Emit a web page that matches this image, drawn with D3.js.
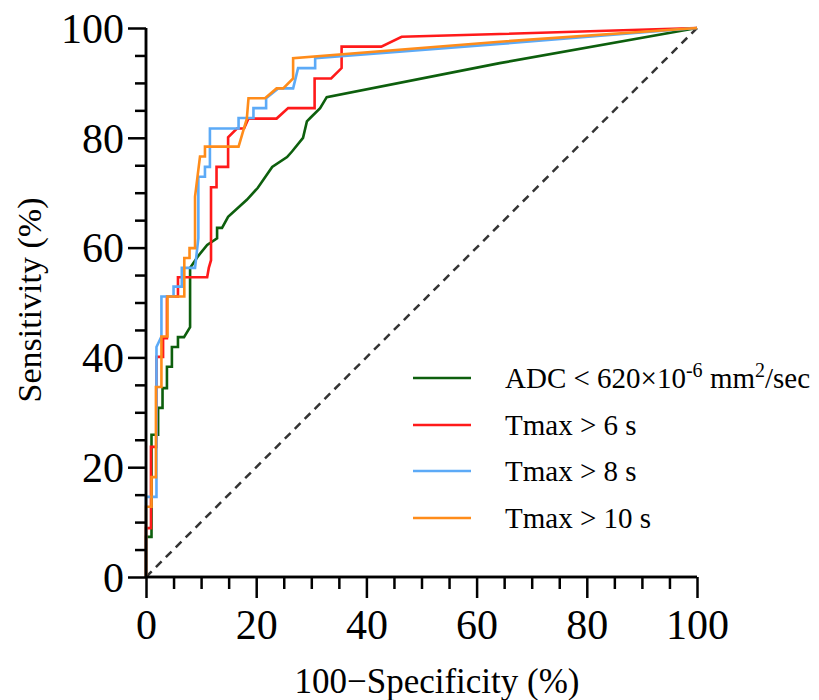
<!DOCTYPE html>
<html>
<head>
<meta charset="utf-8">
<script src="https://d3js.org/d3.v7.min.js"></script>
<style>
	body { margin: 0; background: #fff; }
	svg text { font-family: "Liberation Serif", "Times New Roman", serif; fill: #000; }
</style>
</head>
<body>
<div id="chart"></div>
<script>
// ROC curve points: [100-specificity, sensitivity]
var adc = [[0,0],[0,7.3],[1,7.3],[1,25.9],[2.2,25.9],[2.2,30.8],[3,30.8],[3,34.4],[3.8,34.4],[3.8,38.3],
	[4.7,38.3],[4.7,41.9],[5.8,41.9],[5.8,43.7],[6.9,43.7],[8,45.5],[8,56.3],[9.5,58.5],[11.1,60.5],
	[12.9,61.7],[12.9,63.6],[13.8,63.6],[14.9,65.6],[18.3,68.7],[20.3,70.9],[22.9,74.7],[25.6,76.5],
	[26.5,77.5],[28.5,80],[29.2,83],[29.8,83.6],[31.6,85.4],[32.8,87.4],[64.2,93.6],[100,100]];
var tmax6 = [[0,0],[0,8.9],[0.9,8.9],[0.9,23.7],[1.9,23.7],[1.9,40.1],[3.1,40.1],[3.1,43.5],[3.8,43.5],
	[3.8,51.1],[5.8,51.1],[5.8,54.6],[11.1,54.6],[11.4,56.3],[11.8,57.7],[11.8,71],[12.8,71],[12.8,74.7],
	[14.9,74.7],[14.9,80.1],[16.5,81.7],[17.8,81.7],[18.6,83.5],[23.7,83.5],[25.8,85.4],[30.6,85.4],
	[30.6,90.8],[33.6,90.8],[35.5,92.7],[35.5,96.6],[42.7,96.6],[46.4,98.4],[64.2,98.9],[100,100]];
var tmax8 = [[0,0],[0,14.6],[1.9,14.6],[1.9,41.9],[2.8,43.8],[2.8,51.1],[5,51.1],[5,52.9],[6.5,52.9],
	[6.5,56.3],[8.9,56.3],[9.5,61.7],[9.5,72.9],[10.7,72.9],[10.7,74.7],[11.6,74.7],[11.6,81.7],
	[16.8,81.7],[16.8,83.6],[19.5,83.6],[19.5,85.4],[21.8,85.4],[21.8,87.2],[24,89],[26.7,89],
	[27.6,92.7],[30.7,92.7],[30.7,94.5],[64.2,97.1],[100,100]];
var tmax10 = [[0,0],[0,12.8],[1,12.8],[1,18.2],[1.8,18.2],[1.8,34.6],[2.8,34.6],[2.8,43.8],[3.9,43.8],
	[3.9,51.1],[6.95,51.1],[6.95,58.1],[7.9,58.1],[7.9,59.9],[8.9,59.9],[8.9,69.3],[9.8,76.6],
	[10.7,76.6],[10.7,78.4],[16.8,78.4],[18.3,83.5],[18.6,87.2],[21.6,87.2],[23.7,89],[24.9,89],
	[26.7,90.8],[26.7,94.5],[64.2,97.5],[100,100]];
var reference = [[0,0],[100,100]];

var seriesNames = ["ADC", "Tmax > 6 s", "Tmax > 8 s", "Tmax > 10 s"];
var seriesData = [adc, tmax6, tmax8, tmax10];
var seriesColors = ["#0d5f0d", "#ff1a1a", "#5caaf7", "#ff8c1a"];

var majorTicks = [0, 20, 40, 60, 80, 100];
var minorTicks = [5, 10, 15, 25, 30, 35, 45, 50, 55, 65, 70, 75, 85, 90, 95];

var width = 819, height = 700;

var svg = d3.select("#chart")
	.append("svg")
	.attr("width", width)
	.attr("height", height);

var x = d3.scaleLinear().domain([0, 100]).range([146, 697]);
var y = d3.scaleLinear().domain([0, 100]).range([577, 28]);

// diagonal reference
var line = d3.line()
	.x(function(d) { return x(d[0]); })
	.y(function(d) { return y(d[1]); });

svg.append("path")
	.datum(reference)
	.attr("d", line)
	.attr("fill", "none")
	.attr("stroke", "#333")
	.attr("stroke-width", 2.5)
	.attr("stroke-dasharray", "8,6");

// curves
seriesData.forEach(function(s, i) {
	svg.append("path")
		.datum(s)
		.attr("d", line)
		.attr("fill", "none")
		.attr("stroke", seriesColors[i])
		.attr("stroke-width", 2.6)
		.attr("stroke-linejoin", "miter");
});

// axes
function styleAxis(g) {
	g.selectAll("path.domain").attr("stroke", "#000").attr("stroke-width", 2.5);
	g.selectAll(".tick line").attr("stroke", "#000").attr("stroke-width", 2.5);
	g.selectAll(".tick text")
		.style("font-family", "'Liberation Serif', 'Times New Roman', serif")
		.style("font-size", "42px")
		.attr("fill", "#000");
}

var xMinor = svg.append("g")
	.attr("transform", "translate(0," + y(0) + ")")
	.call(d3.axisBottom(x).tickValues(minorTicks).tickSize(12).tickFormat(""));
var xMajor = svg.append("g")
	.attr("transform", "translate(0," + y(0) + ")")
	.call(d3.axisBottom(x).tickValues(majorTicks).tickSize(21).tickPadding(11));
var yMinor = svg.append("g")
	.attr("transform", "translate(" + x(0) + ",0)")
	.call(d3.axisLeft(y).tickValues(minorTicks).tickSize(11).tickFormat(""));
var yMajor = svg.append("g")
	.attr("transform", "translate(" + x(0) + ",0)")
	.call(d3.axisLeft(y).tickValues(majorTicks).tickSize(18).tickPadding(4));

[xMinor, xMajor, yMinor, yMajor].forEach(styleAxis);
xMinor.select("path.domain").attr("d", "M" + x(0) + ",0H" + x(100));
xMajor.select("path.domain").attr("d", "M" + x(0) + ",0H" + x(100));
yMinor.select("path.domain").attr("d", "M0," + y(0) + "V" + y(100));
yMajor.select("path.domain").attr("d", "M0," + y(0) + "V" + y(100));
yMajor.selectAll(".tick text").attr("dy", "0.34em");

// axis titles
svg.append("text")
	.attr("x", 437)
	.attr("y", 693)
	.attr("text-anchor", "middle")
	.style("font-size", "35px")
	.text("100\u2212Specificity (%)");

svg.append("text")
	.attr("transform", "translate(41,300) rotate(-90)")
	.attr("text-anchor", "middle")
	.style("font-size", "34px")
	.text("Sensitivity (%)");

// legend
var legendY = [378, 425, 471, 518];
var legend = svg.append("g");
seriesNames.forEach(function(name, i) {
	legend.append("line")
		.attr("x1", 413).attr("x2", 471)
		.attr("y1", legendY[i]).attr("y2", legendY[i])
		.attr("stroke", seriesColors[i])
		.attr("stroke-width", 2.6);
	var t = legend.append("text")
		.attr("x", 505)
		.attr("y", legendY[i] + 10)
		.style("font-size", "29px");
	if (i === 0) {
		t.append("tspan").text("ADC < 620\u00d710");
		t.append("tspan").attr("dy", -11).style("font-size", "20px").text("-6");
		t.append("tspan").attr("dy", 11).text(" mm");
		t.append("tspan").attr("dy", -11).style("font-size", "20px").text("2");
		t.append("tspan").attr("dy", 11).text("/sec");
	} else {
		t.text(name);
	}
});
</script>
</body>
</html>
